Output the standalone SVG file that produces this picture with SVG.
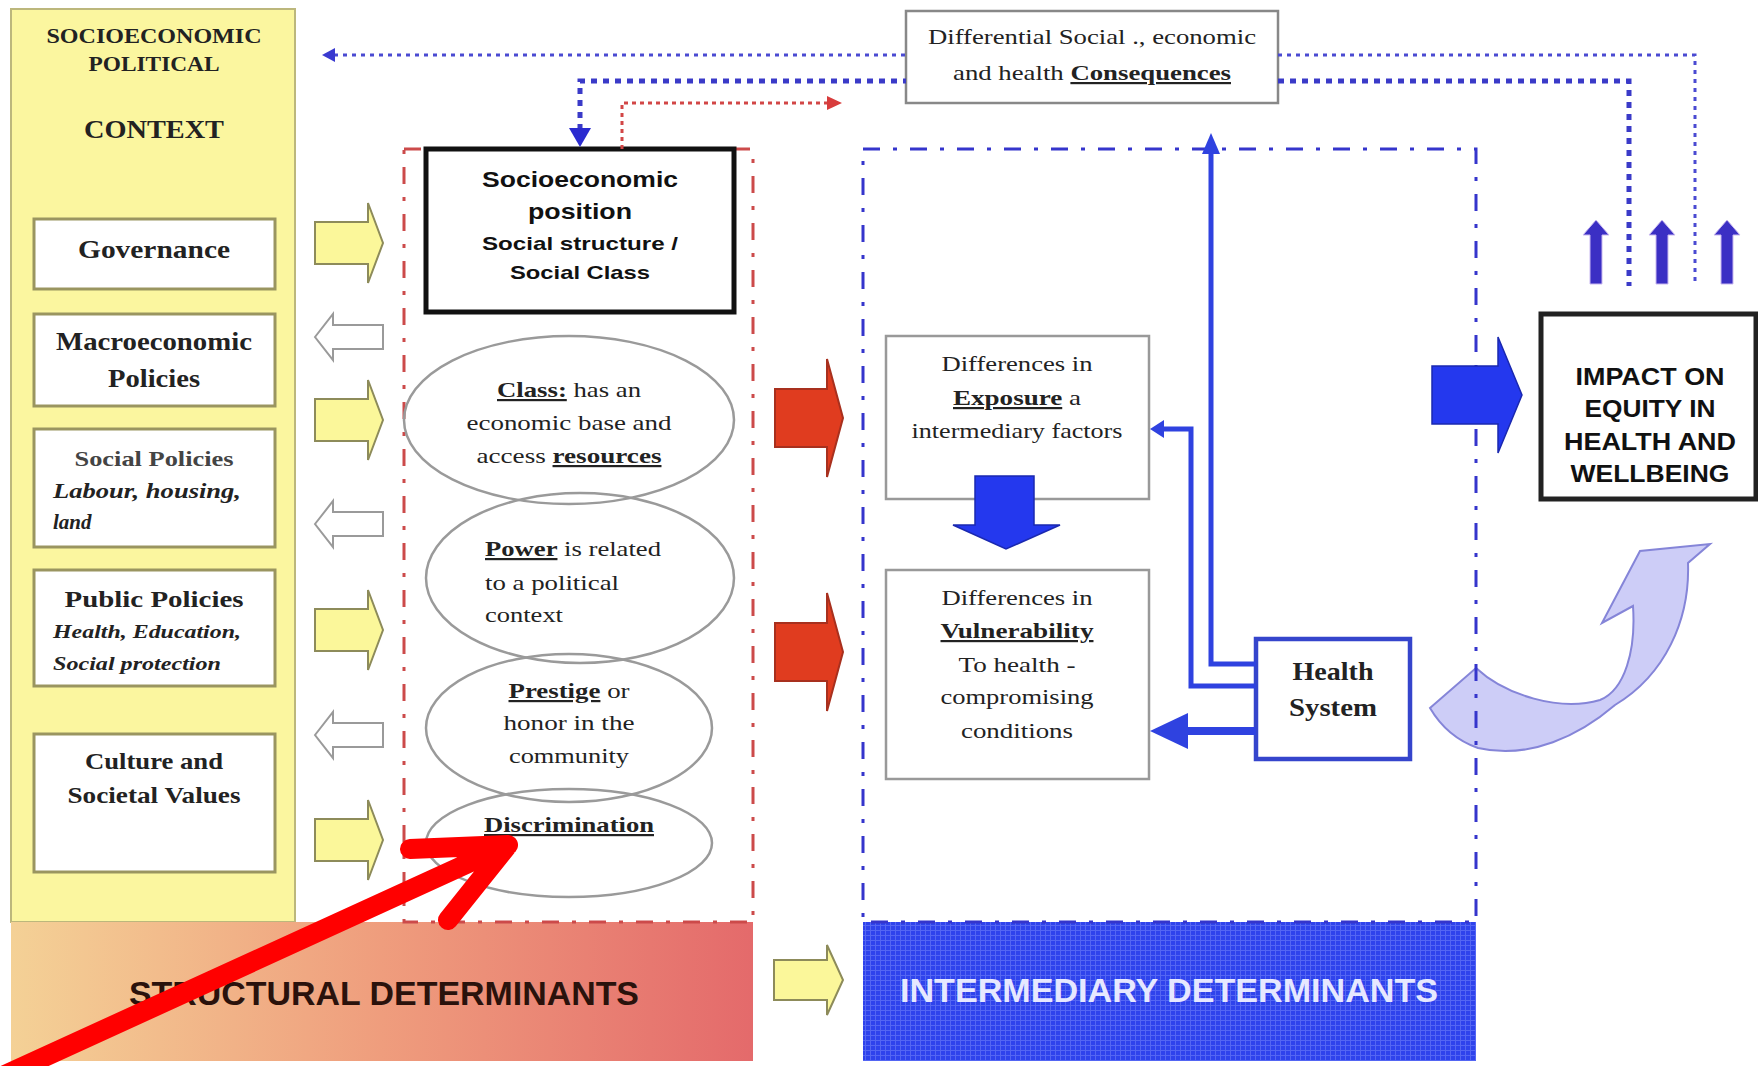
<svg xmlns="http://www.w3.org/2000/svg" width="1758" height="1066" viewBox="0 0 1758 1066">
<defs>
<style>
.serif{font-family:"Liberation Serif","Times New Roman",serif;fill:#222;}
.sans{font-family:"Liberation Sans",Arial,sans-serif;font-weight:bold;fill:#111;}
.b{font-weight:bold;}
.i{font-style:italic;}
.u{text-decoration:underline;}
.cbox{fill:#fff;stroke:#9a9560;stroke-width:3;}
.ell{fill:none;stroke:#9a9a9a;stroke-width:2.5;}
.gbox{fill:#fff;stroke:#999;stroke-width:2.5;}
.yarr{fill:#fbf79a;stroke:#8d8b5a;stroke-width:2;}
.harr{fill:#fff;stroke:#9a9a9a;stroke-width:2;}
.rarr{fill:#e03c1f;stroke:#a8301e;stroke-width:2;}
.barr{fill:#2438ee;stroke:#1a28b0;stroke-width:1.5;}
.upar{fill:#3b2fc4;stroke:#c9b8f0;stroke-width:1;}
.bline{fill:none;stroke:#2f42e0;stroke-width:5;}
</style>
<linearGradient id="sgrad" x1="0" y1="0" x2="1" y2="0">
<stop offset="0" stop-color="#f4d196"/>
<stop offset="0.5" stop-color="#ef9d7d"/>
<stop offset="1" stop-color="#e46a6b"/>
</linearGradient>
<pattern id="grid" width="5" height="5" patternUnits="userSpaceOnUse">
<rect width="5" height="5" fill="#2f43ec"/>
<path d="M0 0.5H5M0.5 0V5" stroke="#5466f3" stroke-width="1"/>
</pattern>
<polygon id="ya" points="0,-21 53,-21 53,-40 68,0 53,40 53,21 0,21"/>
<polygon id="ha" points="0,0 18,-23 18,-12 68,-12 68,12 18,12 18,23"/>
<polygon id="ra" points="0,-29 52,-29 52,-59 68,0 52,59 52,29 0,29"/>
<polygon id="ua" points="-6,64 -6,15 -13,15 0,0 13,15 6,15 6,64"/>
</defs>

<rect width="1758" height="1066" fill="#fff"/>

<!-- Context panel -->
<g id="context">
<rect x="11" y="9" width="284" height="913" fill="#fbf69f" stroke="#bcb77c" stroke-width="2"/>
<text class="serif b" x="154" y="43" font-size="20" text-anchor="middle" textLength="215" lengthAdjust="spacingAndGlyphs">SOCIOECONOMIC</text>
<text class="serif b" x="154" y="71" font-size="20" text-anchor="middle" textLength="131" lengthAdjust="spacingAndGlyphs">POLITICAL</text>
<text class="serif b" x="154" y="138" font-size="26" text-anchor="middle" textLength="140" lengthAdjust="spacingAndGlyphs">CONTEXT</text>
</g>
<g id="governance">
<rect class="cbox" x="34" y="219" width="241" height="70"/>
<text class="serif b" x="154" y="258" font-size="25" text-anchor="middle" textLength="152" lengthAdjust="spacingAndGlyphs">Governance</text>
</g>
<g id="macro">
<rect class="cbox" x="34" y="314" width="241" height="92"/>
<text class="serif b" x="154" y="350" font-size="25" text-anchor="middle" textLength="196" lengthAdjust="spacingAndGlyphs">Macroeconomic</text>
<text class="serif b" x="154" y="387" font-size="25" text-anchor="middle" textLength="92" lengthAdjust="spacingAndGlyphs">Policies</text>
</g>
<g id="social">
<rect class="cbox" x="34" y="429" width="241" height="118"/>
<text class="serif b" x="154" y="466" font-size="22" text-anchor="middle" fill="#444" textLength="159" lengthAdjust="spacingAndGlyphs" style="fill:#444">Social Policies</text>
<text class="serif b i" x="53" y="498" font-size="21" textLength="188" lengthAdjust="spacingAndGlyphs">Labour, housing,</text>
<text class="serif b i" x="53" y="529" font-size="21">land</text>
</g>
<g id="public">
<rect class="cbox" x="34" y="570" width="241" height="116"/>
<text class="serif b" x="154" y="607" font-size="24" text-anchor="middle" textLength="179" lengthAdjust="spacingAndGlyphs">Public Policies</text>
<text class="serif b i" x="53" y="638" font-size="19" textLength="188" lengthAdjust="spacingAndGlyphs">Health, Education,</text>
<text class="serif b i" x="53" y="670" font-size="19" textLength="168" lengthAdjust="spacingAndGlyphs">Social protection</text>
</g>
<g id="culture">
<rect class="cbox" x="34" y="734" width="241" height="138"/>
<text class="serif b" x="154" y="769" font-size="24" text-anchor="middle" textLength="138" lengthAdjust="spacingAndGlyphs">Culture and</text>
<text class="serif b" x="154" y="803" font-size="24" text-anchor="middle" textLength="173" lengthAdjust="spacingAndGlyphs">Societal Values</text>
</g>

<!-- Bands -->
<g id="structural-band">
<rect x="11" y="922" width="742" height="139" fill="url(#sgrad)"/>
<text class="sans" x="129" y="1005" font-size="34" fill="#2a120c" style="fill:#2a120c" textLength="510" lengthAdjust="spacingAndGlyphs">STRUCTURAL DETERMINANTS</text>
</g>
<g id="intermediary-band">
<rect x="863" y="922" width="613" height="139" fill="url(#grid)"/>
<text class="sans" x="900" y="1002" font-size="34" style="fill:#e6e8ff" textLength="538" lengthAdjust="spacingAndGlyphs">INTERMEDIARY DETERMINANTS</text>
</g>

<!-- Curved lavender arrow -->
<g id="feedback-arrow">
<path d="M1430,708 L1476,668 C1505,695 1560,712 1600,700 C1625,690 1636,650 1633,606 L1602,623 L1640,551 L1710,544 L1688,563 C1690,620 1665,675 1615,705 C1580,735 1530,760 1478,748 C1455,740 1440,725 1430,708 Z" fill="#c4c4f6" fill-opacity="0.85" stroke="#8585d8" stroke-width="2"/>
</g>

<!-- Dash-dot boxes -->
<g id="structural-frame">
<rect x="404" y="149" width="349" height="773" fill="none" stroke="#cc4a4a" stroke-width="3" stroke-dasharray="17 13 4 13"/>
</g>
<g id="intermediary-frame">
<rect x="863" y="149" width="613" height="773" fill="none" stroke="#3535cc" stroke-width="3" stroke-dasharray="17 13 4 13"/>
</g>

<!-- Socioeconomic position -->
<g id="sep">
<rect x="426" y="149" width="308" height="163" fill="#fff" stroke="#111" stroke-width="5"/>
<text class="sans" x="580" y="187" font-size="22" text-anchor="middle" textLength="196" lengthAdjust="spacingAndGlyphs">Socioeconomic</text>
<text class="sans" x="580" y="219" font-size="22" text-anchor="middle" textLength="104" lengthAdjust="spacingAndGlyphs">position</text>
<text class="sans" x="580" y="250" font-size="19" text-anchor="middle" textLength="196" lengthAdjust="spacingAndGlyphs">Social structure /</text>
<text class="sans" x="580" y="279" font-size="19" text-anchor="middle" textLength="140" lengthAdjust="spacingAndGlyphs">Social Class</text>
</g>

<!-- Ellipses -->
<g id="class">
<ellipse class="ell" cx="569" cy="420" rx="165" ry="84"/>
<text class="serif" x="569" y="397" font-size="22" text-anchor="middle" textLength="144" lengthAdjust="spacingAndGlyphs"><tspan class="b u">Class:</tspan> has an</text>
<text class="serif" x="569" y="430" font-size="22" text-anchor="middle" textLength="205" lengthAdjust="spacingAndGlyphs">economic base and</text>
<text class="serif" x="569" y="463" font-size="22" text-anchor="middle" textLength="185" lengthAdjust="spacingAndGlyphs">access <tspan class="b u">resources</tspan></text>
</g>
<g id="power">
<ellipse class="ell" cx="580" cy="578" rx="154" ry="85"/>
<text class="serif" x="485" y="556" font-size="22" textLength="176" lengthAdjust="spacingAndGlyphs"><tspan class="b u">Power</tspan> is related</text>
<text class="serif" x="485" y="590" font-size="22" textLength="134" lengthAdjust="spacingAndGlyphs">to a political</text>
<text class="serif" x="485" y="622" font-size="22" textLength="78" lengthAdjust="spacingAndGlyphs">context</text>
</g>
<g id="prestige">
<ellipse class="ell" cx="569" cy="728" rx="143" ry="74"/>
<text class="serif" x="569" y="698" font-size="22" text-anchor="middle" textLength="121" lengthAdjust="spacingAndGlyphs"><tspan class="b u">Prestige</tspan> or</text>
<text class="serif" x="569" y="730" font-size="22" text-anchor="middle" textLength="131" lengthAdjust="spacingAndGlyphs">honor in the</text>
<text class="serif" x="569" y="763" font-size="22" text-anchor="middle" textLength="120" lengthAdjust="spacingAndGlyphs">community</text>
</g>
<g id="discrimination">
<ellipse class="ell" cx="569" cy="843" rx="143" ry="54"/>
<text class="serif b u" x="569" y="832" font-size="22" text-anchor="middle" textLength="170" lengthAdjust="spacingAndGlyphs">Discrimination</text>
</g>

<!-- Consequences box -->
<g id="consequences">
<rect class="gbox" x="906" y="11" width="372" height="92" style="stroke:#888"/>
<text class="serif" x="1092" y="44" font-size="22" text-anchor="middle" textLength="328" lengthAdjust="spacingAndGlyphs">Differential Social ., economic</text>
<text class="serif" x="1092" y="80" font-size="22" text-anchor="middle" textLength="278" lengthAdjust="spacingAndGlyphs">and health <tspan class="b u">Consequences</tspan></text>
</g>

<!-- Exposure -->
<g id="exposure">
<rect class="gbox" x="886" y="336" width="263" height="163"/>
<text class="serif" x="1017" y="371" font-size="22" text-anchor="middle" textLength="151" lengthAdjust="spacingAndGlyphs">Differences in</text>
<text class="serif" x="1017" y="405" font-size="22" text-anchor="middle" textLength="128" lengthAdjust="spacingAndGlyphs"><tspan class="b u">Exposure</tspan> a</text>
<text class="serif" x="1017" y="438" font-size="22" text-anchor="middle" textLength="211" lengthAdjust="spacingAndGlyphs">intermediary factors</text>
</g>

<!-- Vulnerability -->
<g id="vulnerability">
<rect class="gbox" x="886" y="570" width="263" height="209"/>
<text class="serif" x="1017" y="605" font-size="22" text-anchor="middle" textLength="151" lengthAdjust="spacingAndGlyphs">Differences in</text>
<text class="serif b u" x="1017" y="638" font-size="22" text-anchor="middle" textLength="153" lengthAdjust="spacingAndGlyphs">Vulnerability</text>
<text class="serif" x="1017" y="672" font-size="22" text-anchor="middle" textLength="117" lengthAdjust="spacingAndGlyphs">To health -</text>
<text class="serif" x="1017" y="704" font-size="22" text-anchor="middle" textLength="153" lengthAdjust="spacingAndGlyphs">compromising</text>
<text class="serif" x="1017" y="738" font-size="22" text-anchor="middle" textLength="112" lengthAdjust="spacingAndGlyphs">conditions</text>
</g>

<!-- Health system -->
<g id="health-system">
<rect x="1256" y="639" width="154" height="120" fill="#fff" stroke="#3545cc" stroke-width="4.5"/>
<text class="serif b" x="1333" y="680" font-size="25" text-anchor="middle" textLength="81" lengthAdjust="spacingAndGlyphs">Health</text>
<text class="serif b" x="1333" y="716" font-size="25" text-anchor="middle" textLength="88" lengthAdjust="spacingAndGlyphs">System</text>
</g>

<!-- Impact -->
<g id="impact">
<rect x="1541" y="314" width="215" height="185" fill="#fff" stroke="#222" stroke-width="5"/>
<text class="sans" x="1650" y="385" font-size="23" text-anchor="middle" textLength="149" lengthAdjust="spacingAndGlyphs">IMPACT ON</text>
<text class="sans" x="1650" y="417" font-size="23" text-anchor="middle" textLength="131" lengthAdjust="spacingAndGlyphs">EQUITY IN</text>
<text class="sans" x="1650" y="450" font-size="23" text-anchor="middle" textLength="172" lengthAdjust="spacingAndGlyphs">HEALTH AND</text>
<text class="sans" x="1650" y="482" font-size="23" text-anchor="middle" textLength="159" lengthAdjust="spacingAndGlyphs">WELLBEING</text>
</g>

<!-- Connectors -->
<g id="connectors">
<!-- block arrows between context and structural -->
<use href="#ya" class="yarr" x="315" y="243"/>
<use href="#ha" class="harr" x="315" y="337"/>
<use href="#ya" class="yarr" x="315" y="420"/>
<use href="#ha" class="harr" x="315" y="524"/>
<use href="#ya" class="yarr" x="315" y="630"/>
<use href="#ha" class="harr" x="315" y="735"/>
<use href="#ya" class="yarr" x="315" y="840"/>
<!-- red arrows structural to intermediary -->
<use href="#ra" class="rarr" x="775" y="418"/>
<use href="#ra" class="rarr" x="775" y="652"/>
<!-- yellow arrow between bands -->
<polygon class="yarr" points="774,960 827,960 827,945 843,980 827,1015 827,1000 774,1000"/>
<!-- blue big arrow to impact -->
<polygon class="barr" points="1432,366 1498,366 1498,337 1522,395 1498,453 1498,424 1432,424"/>
<!-- exposure to vulnerability -->
<polygon class="barr" points="975,476 1034,476 1034,525 1060,525 1006,549 953,525 975,525"/>
<!-- small up arrows -->
<use href="#ua" class="upar" x="1596" y="220"/>
<use href="#ua" class="upar" x="1662" y="220"/>
<use href="#ua" class="upar" x="1727" y="220"/>
<!-- dotted feedback lines -->
<path d="M334 55H906M1278 55H1695V286" fill="none" stroke="#4a4ad2" stroke-width="3" stroke-dasharray="4 5"/>
<polygon points="322,55 335,48 335,62" fill="#3a3ad0"/>
<path d="M580 130V81H906M1278 81H1629V286" fill="none" stroke="#3a3ac8" stroke-width="5" stroke-dasharray="6 6"/>
<polygon points="569,128 591,128 580,147" fill="#2b2bd0"/>
<path d="M622 149V103H830" fill="none" stroke="#d24646" stroke-width="3" stroke-dasharray="4 4"/>
<polygon points="827,96 842,103 827,110" fill="#d83c3c"/>
<!-- health system links -->
<path class="bline" d="M1256 664H1211V152"/>
<polygon points="1202,154 1220,154 1211,133" fill="#2f42e0"/>
<path class="bline" d="M1256 686H1191V429H1162"/>
<polygon points="1164,420 1164,438 1150,429" fill="#2f42e0"/>
<path d="M1256 731H1184" fill="none" stroke="#2f42e0" stroke-width="8"/>
<polygon points="1188,713 1188,749 1150,731" fill="#2f42e0"/>
</g>

<!-- Red annotation arrow -->
<g id="annotation">
<path d="M-6 1080L508 845M410 849L508 845L448 920" fill="none" stroke="#ff0000" stroke-width="20" stroke-linecap="round" stroke-linejoin="round"/>
</g>
</svg>
